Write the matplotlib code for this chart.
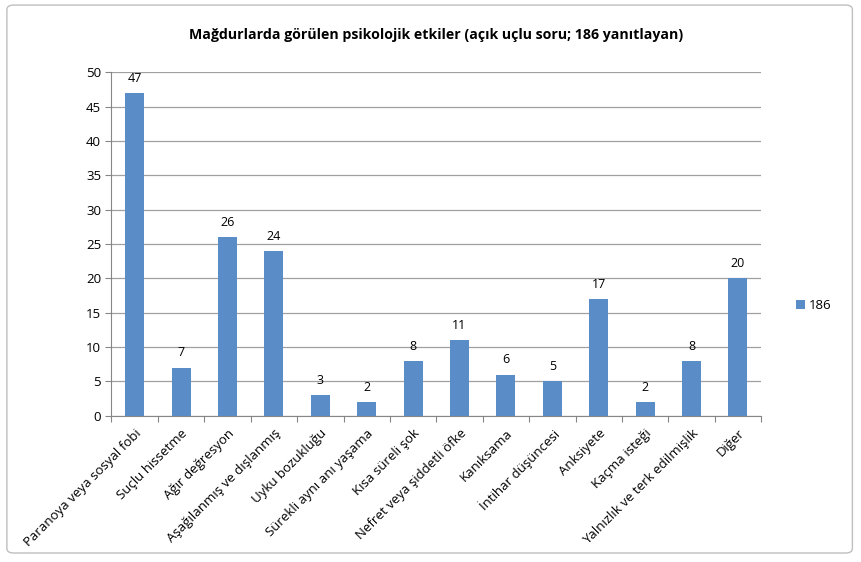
import matplotlib.pyplot as plt
import matplotlib.patches as mpatches

# Chart data
categories = ['Paranoya veya sosyal fobi', 'Suçlu hissetme', 'Ağır değresyon',
              'Aşağılanmış ve dışlanmış', 'Uyku bozukluğu', 'Sürekli aynı anı yaşama',
              'Kısa süreli şok', 'Nefret veya şiddetli öfke', 'Kanıksama',
              'İntihar düşüncesi', 'Anksiyete', 'Kaçma isteği',
              'Yalnızlık ve terk edilmişlik', 'Diğer']
values = [47, 7, 26, 24, 3, 2, 8, 11, 6, 5, 17, 2, 8, 20]
series_name = '186'
y_ticks = [0, 5, 10, 15, 20, 25, 30, 35, 40, 45, 50]

plt.rcParams['font.family'] = ['Open Sans', 'DejaVu Sans']

fig = plt.figure(figsize=(8.61, 5.62), dpi=100)
ax = fig.add_axes([0.1295, 0.2603, 0.7545, 0.611])

x = range(len(categories))
ax.bar(x, values, width=0.41, color='#5A8CC8', label=series_name, zorder=3)

for xi, v in zip(x, values):
    ax.text(xi, v + 1.2, str(v), ha='center', va='bottom', fontsize=9, color='#000000')

ax.set_xlim(-0.5, len(categories) - 0.5)
ax.set_ylim(0, 50)
ax.set_yticks(y_ticks)
ax.tick_params(axis='y', labelsize=9.5, length=4, color='#868686')
ax.yaxis.grid(True, color='#A0A0A0', linewidth=0.9, zorder=0)

ax.set_xticks([i - 0.5 for i in range(len(categories) + 1)])
ax.set_xticklabels([])
ax.tick_params(axis='x', length=4, color='#868686')
ax.set_xticks(list(x), minor=True)
ax.set_xticklabels(categories, minor=True, rotation=45, ha='right',
                   rotation_mode='anchor', fontsize=9.5)
ax.tick_params(axis='x', which='minor', length=0, pad=8)

for side in ['top', 'right']:
    ax.spines[side].set_visible(False)
ax.spines['left'].set_color('#868686')
ax.spines['bottom'].set_color('#868686')

ax.set_title('Mağdurlarda görülen psikolojik etkiler (açık uçlu soru; 186 yanıtlayan)',
             fontsize=10.2, fontweight='bold', pad=24)

ax.legend(loc='center left', bbox_to_anchor=(1.035, 0.32), frameon=False,
          fontsize=9.5, handlelength=0.7, handleheight=0.7, handletextpad=0.3)

# outer chart border
fig.patches.append(mpatches.FancyBboxPatch((0.008, 0.016), 0.982, 0.975,
                                           boxstyle='round,pad=0,rounding_size=0.008',
                                           transform=fig.transFigure, fill=False,
                                           edgecolor='#BFBFBF', linewidth=1))

fig.savefig('out.png', dpi=100)
